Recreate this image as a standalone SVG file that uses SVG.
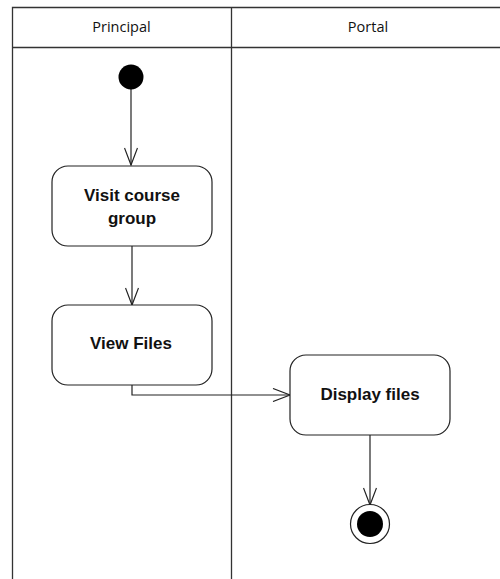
<svg xmlns="http://www.w3.org/2000/svg" width="500" height="579" viewBox="0 0 500 579">
<defs>
<style>
.lane{fill:none;stroke:#333;stroke-width:1.3}
.hdr{font-family:"Open Sans","Liberation Sans",sans-serif;font-size:14.5px;fill:#111;text-anchor:middle}
.box{fill:#fff;stroke:#222;stroke-width:1.2}
.lbl{font-family:"Liberation Sans",Arial,sans-serif;font-weight:bold;font-size:17px;fill:#111;text-anchor:middle}
.edge{fill:none;stroke:#222;stroke-width:1.2}
</style>
<marker id="arr" viewBox="0 0 20 14" refX="18" refY="7" markerWidth="20" markerHeight="14" markerUnits="userSpaceOnUse" orient="auto">
<path d="M1,0.5 L18,7 L1,13.5" fill="none" stroke="#222" stroke-width="1.2"/>
</marker>
</defs>
<rect width="500" height="579" fill="#fff"/>
<g id="swimlanes">
<path class="lane" d="M12.5,579 V7.5 H505 M12.5,47.5 H505 M231.5,7.5 V579"/>
<text class="hdr" x="121.5" y="32">Principal</text>
<text class="hdr" x="368" y="32">Portal</text>
</g>
<g id="connectors">
<path class="edge" d="M131,89 V165" marker-end="url(#arr)"/>
<path class="edge" d="M132,246 V305" marker-end="url(#arr)"/>
<path class="edge" d="M132,385 V395 H290" marker-end="url(#arr)"/>
<path class="edge" d="M370,435 V505" marker-end="url(#arr)"/>
</g>
<g id="start">
<circle cx="131" cy="77" r="12.5" fill="#000"/>
</g>
<g id="visit">
<rect class="box" x="52" y="166" width="160" height="80" rx="16"/>
<text class="lbl" x="132" y="200.7">Visit course</text>
<text class="lbl" x="132" y="223.5">group</text>
</g>
<g id="view">
<rect class="box" x="52" y="305" width="160" height="80" rx="16"/>
<text class="lbl" x="131" y="349">View Files</text>
</g>
<g id="display">
<rect class="box" x="290" y="355" width="160" height="80" rx="16"/>
<text class="lbl" x="370" y="399.5">Display files</text>
</g>
<g id="end">
<circle cx="370" cy="524" r="19.5" fill="#fff" stroke="#222" stroke-width="1.2"/>
<circle cx="370" cy="524" r="13" fill="#000"/>
</g>
</svg>
